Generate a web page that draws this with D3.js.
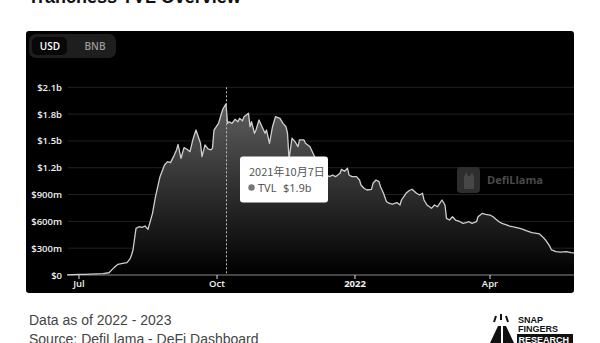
<!DOCTYPE html>
<html>
<head>
<meta charset="utf-8">
<script src="https://cdn.jsdelivr.net/npm/d3@7"></script>
<style>
  html, body { margin: 0; padding: 0; background: #fff; }
  svg { display: block; }
</style>
</head>
<body>
<div id="chart"></div>
<script>
// TVL readings (millions of USD)
const dates = [
  "2021-06-23","2021-06-27","2021-07-01","2021-07-05","2021-07-09","2021-07-13","2021-07-17","2021-07-21",
  "2021-07-23","2021-07-25","2021-07-27","2021-07-30","2021-08-02","2021-08-04","2021-08-05","2021-08-06",
  "2021-08-08","2021-08-10","2021-08-12","2021-08-14","2021-08-16","2021-08-19","2021-08-21","2021-08-24",
  "2021-08-27","2021-08-29","2021-08-31","2021-09-02","2021-09-04","2021-09-05","2021-09-07","2021-09-09",
  "2021-09-11","2021-09-13","2021-09-15","2021-09-17","2021-09-20","2021-09-21","2021-09-23","2021-09-25",
  "2021-09-27","2021-09-28","2021-09-29","2021-10-02","2021-10-04","2021-10-05","2021-10-07","2021-10-08",
  "2021-10-09","2021-10-11","2021-10-13","2021-10-15","2021-10-16","2021-10-18","2021-10-19","2021-10-22",
  "2021-10-23","2021-10-24","2021-10-26","2021-10-27","2021-10-29","2021-11-02","2021-11-03","2021-11-05",
  "2021-11-07","2021-11-09","2021-11-12","2021-11-14","2021-11-16","2021-11-17","2021-11-18","2021-11-20",
  "2021-11-22","2021-11-24","2021-11-25","2021-11-28","2021-11-29","2021-12-02","2021-12-04","2021-12-07",
  "2021-12-10","2021-12-13","2021-12-15","2021-12-17","2021-12-19","2021-12-22","2021-12-23","2021-12-25",
  "2021-12-27","2021-12-28","2021-12-30","2022-01-02","2022-01-04","2022-01-05","2022-01-07","2022-01-09",
  "2022-01-12","2022-01-13","2022-01-15","2022-01-17","2022-01-18","2022-01-20","2022-01-22","2022-01-24",
  "2022-01-26","2022-01-29","2022-01-31","2022-02-01","2022-02-04","2022-02-06","2022-02-08","2022-02-11",
  "2022-02-13","2022-02-15","2022-02-16","2022-02-18","2022-02-21","2022-02-23","2022-02-25","2022-02-28",
  "2022-03-02","2022-03-03","2022-03-05","2022-03-07","2022-03-09","2022-03-12","2022-03-14","2022-03-16",
  "2022-03-18","2022-03-20","2022-03-23","2022-03-24","2022-03-27","2022-03-29","2022-04-01","2022-04-03",
  "2022-04-05","2022-04-07","2022-04-09","2022-04-12","2022-04-14","2022-04-16","2022-04-18","2022-04-21",
  "2022-04-23","2022-04-25","2022-04-27","2022-04-29","2022-05-02","2022-05-04","2022-05-06","2022-05-08",
  "2022-05-11","2022-05-12","2022-05-15","2022-05-18","2022-05-22","2022-05-25","2022-05-27"
];
const tvl = [
  2,4,6,8,10,12,15,25,
  60,93,120,130,138,180,224,280,
  522,540,533,548,511,690,876,1100,
  1231,1268,1257,1324,1399,1462,1306,1425,
  1407,1380,1520,1622,1474,1324,1455,1410,
  1400,1420,1622,1697,1809,1860,1915,1697,
  1715,1697,1742,1715,1753,1725,1771,1809,
  1659,1715,1586,1622,1734,1586,1622,1474,
  1659,1771,1753,1697,1659,1586,1300,1530,
  1492,1436,1511,1511,1474,1436,1362,1250,
  1150,1119,1100,1119,1100,1138,1182,1160,
  1194,1119,1100,1100,1063,1007,970,951,
  958,1026,1063,1045,988,914,820,802,
  794,810,783,839,914,943,959,914,
  895,914,839,783,746,783,764,839,
  783,634,615,652,615,596,578,585,
  596,578,596,652,690,679,671,652,
  623,596,578,560,548,540,533,522,
  511,496,485,473,466,459,429,392,
  317,280,261,255,261,250,248
];
const yTicks = [0, 300, 600, 900, 1200, 1500, 1800, 2100];
const yTickLabels = ["$0", "$300m", "$600m", "$900m", "$1.2b", "$1.5b", "$1.8b", "$2.1b"];
const xTicks = ["2021-07-01", "2021-10-01", "2022-01-01", "2022-04-01"];
const xTickLabels = ["Jul", "Oct", "2022", "Apr"];
const currencies = ["USD", "BNB"];
const hoverDate = "2021-10-07";
const hoverLabel = "2021年10月7日";
const hoverValue = "$1.9b";

const width = 600, height = 343;
const panel = { x: 26, y: 31, w: 548, h: 262 };
const plot = { left: 68, right: 574, top: 87.3, bottom: 275 };

const parse = d3.timeParse("%Y-%m-%d");
const data = dates.map((d, i) => ({ date: parse(d), value: tvl[i] }));

const svg = d3.select("#chart")
  .append("svg")
  .attr("width", width)
  .attr("height", height);

// Title, mostly cut off at the top edge (as in the source screenshot)
svg.append("text")
  .attr("x", 28)
  .attr("y", 2.5)
  .attr("font-family", "Liberation Sans, Arial, sans-serif")
  .attr("font-size", "18px")
  .attr("font-weight", "bold")
  .attr("fill", "#111")
  .text("Tranchess TVL Overview");

// Dark panel
svg.append("rect")
  .attr("x", panel.x)
  .attr("y", panel.y)
  .attr("width", panel.w)
  .attr("height", panel.h)
  .attr("rx", 3)
  .attr("fill", "#000");

// Scales
const x = d3.scaleTime()
  .domain(d3.extent(data, d => d.date))
  .range([plot.left - 1, plot.right]);

const y = d3.scaleLinear()
  .domain([0, 2100])
  .range([plot.bottom, plot.top]);

// Grid lines
svg.append("g")
  .selectAll("line")
  .data(yTicks.filter(t => t > 0))
  .enter()
  .append("line")
  .attr("x1", plot.left)
  .attr("x2", plot.right)
  .attr("y1", d => y(d))
  .attr("y2", d => y(d))
  .attr("stroke", "#222")
  .attr("stroke-width", 1);

// Y labels
svg.append("g")
  .selectAll("text")
  .data(yTicks)
  .enter()
  .append("text")
  .attr("x", 62)
  .attr("y", d => y(d) + 3.5)
  .attr("text-anchor", "end")
  .attr("font-family", "Open Sans, sans-serif")
  .attr("font-size", "9.5px")
  .attr("font-weight", "600")
  .attr("fill", "#f2f2f2")
  .text((d, i) => yTickLabels[i]);

// Area gradient
const defs = svg.append("defs");
const grad = defs.append("linearGradient")
  .attr("id", "areaGrad")
  .attr("x1", 0).attr("y1", 0).attr("x2", 0).attr("y2", 1);
grad.append("stop").attr("offset", "0%").attr("stop-color", "#5e5e5e");
grad.append("stop").attr("offset", "100%").attr("stop-color", "#000");

const area = d3.area()
  .x(d => x(d.date))
  .y0(plot.bottom)
  .y1(d => y(d.value))
  .curve(d3.curveLinear);

svg.append("path")
  .datum(data)
  .attr("d", area)
  .attr("fill", "url(#areaGrad)");

// Zero axis line
svg.append("line")
  .attr("x1", plot.left)
  .attr("x2", plot.right)
  .attr("y1", plot.bottom)
  .attr("y2", plot.bottom)
  .attr("stroke", "#8a8a8a")
  .attr("stroke-width", 1);

// X ticks and labels
const xg = svg.append("g")
  .selectAll("g")
  .data(xTicks)
  .enter()
  .append("g")
  .attr("transform", d => `translate(${x(parse(d))},0)`);

xg.append("line")
  .attr("y1", plot.bottom)
  .attr("y2", plot.bottom + 4)
  .attr("stroke", "#ddd");

xg.append("text")
  .attr("y", 287)
  .attr("text-anchor", "middle")
  .attr("font-family", "Open Sans, sans-serif")
  .attr("font-size", "9.5px")
  .attr("font-weight", (d, i) => xTickLabels[i] === "2022" ? "700" : "600")
  .attr("fill", "#f2f2f2")
  .text((d, i) => xTickLabels[i]);

// Watermark
const wm = svg.append("g").attr("transform", "translate(457,167)");
wm.append("rect")
  .attr("width", 23)
  .attr("height", 26)
  .attr("rx", 4)
  .attr("fill", "#2e2e2e");
wm.append("path")
  .attr("d", "M7,22 L7,10 L9,5 L11,9 L13,9 L15,5 L17,10 L17,22 Z")
  .attr("fill", "#474747");
wm.append("text")
  .attr("x", 30)
  .attr("y", 17)
  .attr("font-family", "Open Sans, sans-serif")
  .attr("font-size", "11px")
  .attr("font-weight", "700")
  .attr("fill", "#4a4a4a")
  .text("DefiLlama");

// Data line
const line = d3.line()
  .x(d => x(d.date))
  .y(d => y(d.value))
  .curve(d3.curveLinear);

svg.append("path")
  .datum(data)
  .attr("d", line)
  .attr("fill", "none")
  .attr("stroke", "#cfcfcf")
  .attr("stroke-width", 1.3)
  .attr("stroke-linejoin", "round");

// Hover crosshair
const hx = Math.round(x(parse(hoverDate))) + 0.5;
svg.append("line")
  .attr("x1", hx)
  .attr("x2", hx)
  .attr("y1", plot.top)
  .attr("y2", plot.bottom)
  .attr("stroke", "#bbb")
  .attr("stroke-width", 1)
  .attr("stroke-dasharray", "2,2");

// Tooltip
const tip = svg.append("g").attr("transform", "translate(240,156.5)");
tip.append("rect")
  .attr("width", 88)
  .attr("height", 46)
  .attr("rx", 3)
  .attr("fill", "#fff");
tip.append("text")
  .attr("x", 9)
  .attr("y", 19.5)
  .attr("font-family", "Noto Sans CJK SC, sans-serif")
  .attr("font-size", "11px")
  .attr("fill", "#555")
  .text(hoverLabel);
tip.append("circle")
  .attr("cx", 11.5)
  .attr("cy", 31)
  .attr("r", 3.2)
  .attr("fill", "#777");
tip.append("text")
  .attr("x", 18)
  .attr("y", 35)
  .attr("font-family", "Noto Sans, sans-serif")
  .attr("font-size", "11px")
  .attr("fill", "#555")
  .text("TVL");
tip.append("text")
  .attr("x", 43)
  .attr("y", 35)
  .attr("font-family", "Noto Sans, sans-serif")
  .attr("font-size", "11px")
  .attr("fill", "#555")
  .text(hoverValue);

// Currency toggle
svg.append("rect")
  .attr("x", 29)
  .attr("y", 34)
  .attr("width", 87)
  .attr("height", 24)
  .attr("rx", 7)
  .attr("fill", "#1e1e1e");
svg.append("rect")
  .attr("x", 32)
  .attr("y", 37)
  .attr("width", 35)
  .attr("height", 18)
  .attr("rx", 5)
  .attr("fill", "#080808");
svg.append("g")
  .selectAll("text")
  .data(currencies)
  .enter()
  .append("text")
  .attr("x", (d, i) => i === 0 ? 50 : 95)
  .attr("y", 50)
  .attr("text-anchor", "middle")
  .attr("font-family", "Open Sans, sans-serif")
  .attr("font-size", "10px")
  .attr("font-weight", "600")
  .attr("fill", (d, i) => i === 0 ? "#fff" : "#9a9a9a")
  .text(d => d);

// Footer
svg.append("text")
  .attr("x", 29)
  .attr("y", 325)
  .attr("font-family", "Liberation Sans, Arial, sans-serif")
  .attr("font-size", "14px")
  .attr("fill", "#444")
  .text("Data as of 2022 - 2023");
svg.append("text")
  .attr("x", 29)
  .attr("y", 344)
  .attr("font-family", "Liberation Sans, Arial, sans-serif")
  .attr("font-size", "14px")
  .attr("fill", "#444")
  .text("Source: DefiLlama - DeFi Dashboard");

// Snap Fingers logo
const logo = svg.append("g").attr("transform", "translate(488,314)");
logo.append("path")
  .attr("d", "M2,29 L10,12 L13,12 L13,29 Z M15,29 L15,12 L18,12 L26,29 Z")
  .attr("fill", "#111");
logo.append("path")
  .attr("d", "M6,8 L8,2 M13,6 L13,0 M20,8 L18,2")
  .attr("stroke", "#111")
  .attr("stroke-width", 2);
logo.append("text")
  .attr("x", 30).attr("y", 9)
  .attr("font-family", "Liberation Sans, Arial, sans-serif")
  .attr("font-size", "9px").attr("font-weight", "bold").attr("fill", "#111")
  .text("SNAP");
logo.append("text")
  .attr("x", 30).attr("y", 18)
  .attr("font-family", "Liberation Sans, Arial, sans-serif")
  .attr("font-size", "9px").attr("font-weight", "bold").attr("fill", "#111")
  .text("FINGERS");
logo.append("rect")
  .attr("x", 29).attr("y", 20).attr("width", 56).attr("height", 10).attr("fill", "#111");
logo.append("text")
  .attr("x", 30.5).attr("y", 28.5)
  .attr("font-family", "Liberation Sans, Arial, sans-serif")
  .attr("font-size", "9px").attr("font-weight", "bold").attr("fill", "#fff")
  .text("RESEARCH");
</script>
</body>
</html>
